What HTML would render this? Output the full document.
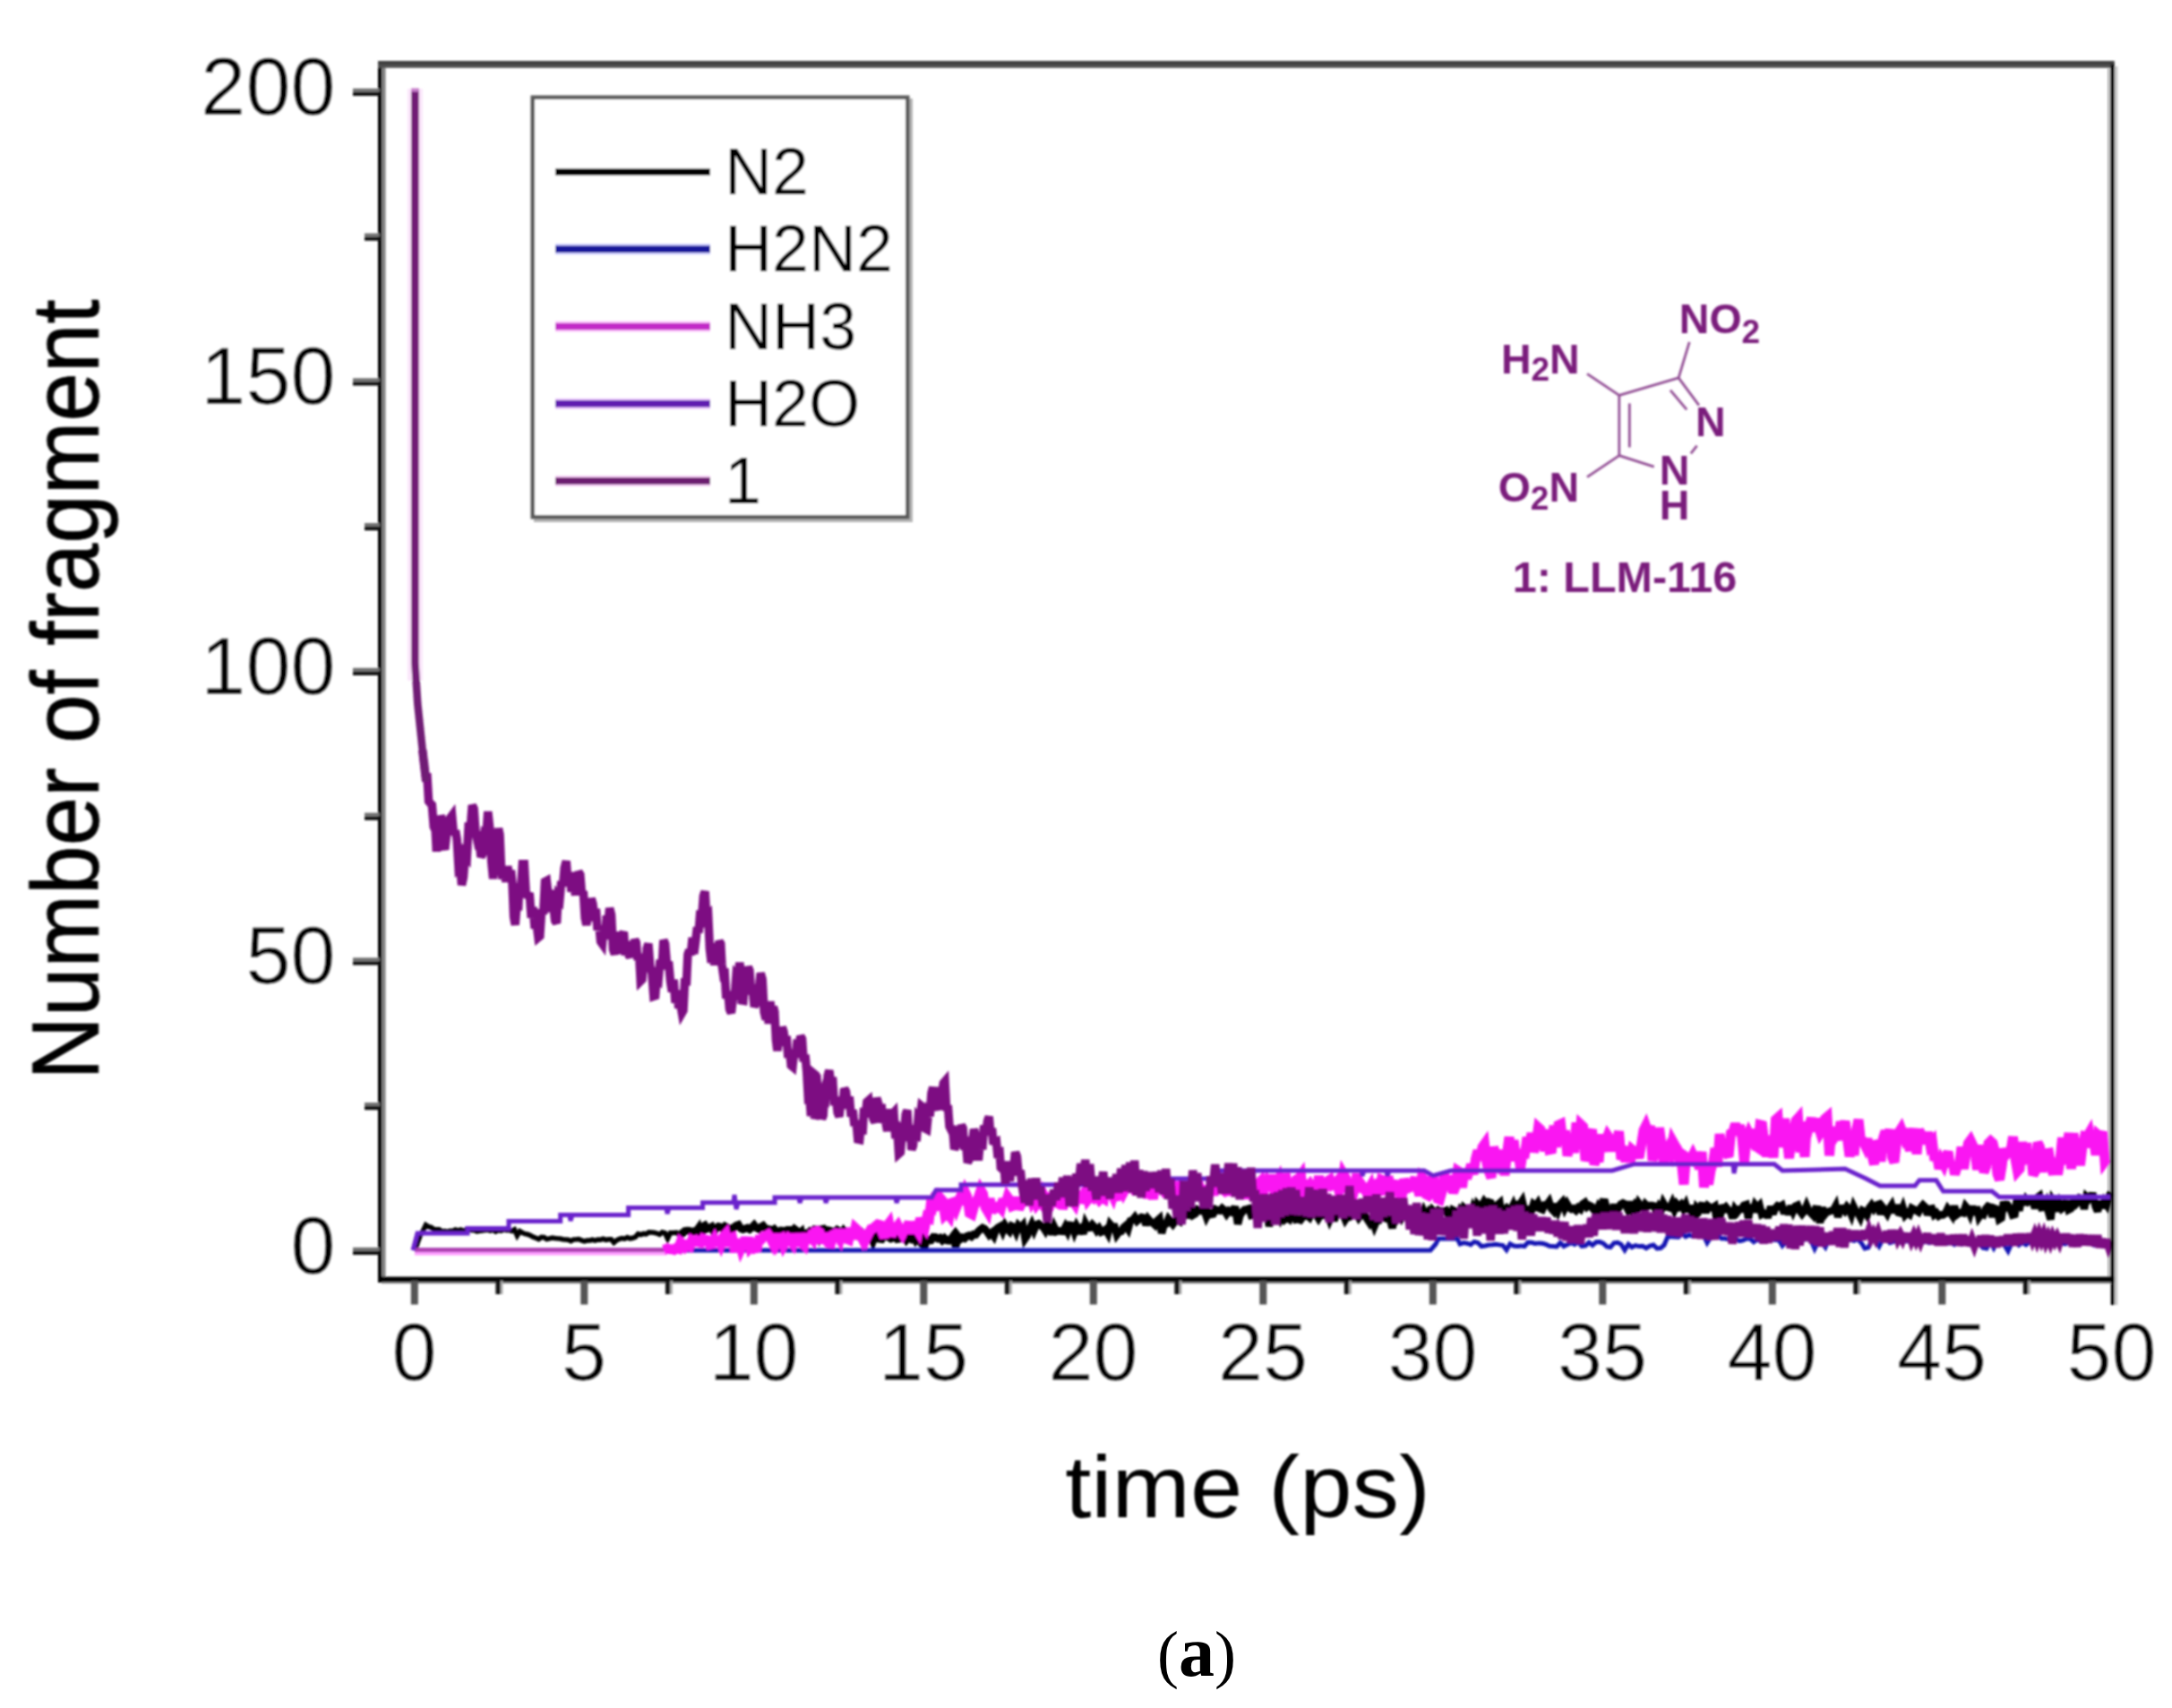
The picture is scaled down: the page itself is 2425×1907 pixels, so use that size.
<!DOCTYPE html>
<html lang="en"><head><meta charset="utf-8"><title>Number of fragment vs time</title>
<style>html,body{margin:0;padding:0;background:#fff}body{width:2425px;height:1907px;overflow:hidden}svg{display:block}</style></head>
<body>
<svg width="2425" height="1907" viewBox="0 0 2425 1907">
<defs><filter id="b" x="-5%" y="-5%" width="110%" height="110%"><feGaussianBlur stdDeviation="1.3"/></filter><filter id="b2" x="-5%" y="-5%" width="110%" height="110%"><feGaussianBlur stdDeviation="0.9"/></filter></defs>
<rect width="2425" height="1907" fill="#fff"/>
<rect x="2352.6" y="76" width="4.1" height="1350" fill="#c4c4c4" filter="url(#b2)"/>
<g fill="none" stroke-linejoin="miter" stroke-miterlimit="3" stroke-linecap="butt" filter="url(#b)">
<path d="M463.4 1396.1 L466.4 1386.8 L469.4 1378.7 L472.4 1373.9 L475.4 1367.7 L478.4 1369.6 L481.4 1370.4 L484.4 1372.5 L487.4 1372.7 L490.4 1372.8 L493.4 1374.9 L496.4 1374.6 L499.4 1375.3 L502.4 1374.2 L505.4 1374.4 L508.4 1372.9 L511.4 1373.8 L514.4 1373.0 L517.4 1374.7 L520.4 1372.8 L523.4 1372.7 L526.4 1373.5 L529.4 1373.6 L532.4 1374.9 L535.4 1374.2 L538.4 1374.1 L541.4 1373.4 L544.4 1373.1 L547.4 1374.1 L550.4 1373.0 L553.4 1375.0 L556.4 1373.6 L559.4 1374.2 L562.4 1372.7 L565.4 1373.5 L568.4 1373.3 L571.4 1374.5 L574.4 1372.9 L577.4 1379.7 L580.4 1374.8 L583.4 1376.5 L586.4 1377.7 L589.4 1378.2 L592.4 1379.6 L595.4 1381.1 L598.4 1382.2 L601.4 1383.5 L604.4 1381.4 L607.4 1381.5 L610.4 1383.6 L613.4 1382.8 L616.4 1382.0 L619.4 1382.5 L622.4 1382.8 L625.4 1383.0 L628.4 1383.7 L631.4 1383.9 L634.4 1384.2 L637.4 1385.6 L640.4 1383.9 L643.4 1383.8 L646.4 1383.5 L649.4 1385.0 L652.4 1385.9 L655.4 1385.1 L658.4 1384.9 L661.4 1384.2 L664.4 1385.1 L667.4 1384.0 L670.4 1384.2 L673.4 1383.2 L676.4 1384.4 L679.4 1383.7 L682.4 1383.7 L685.4 1387.3 L688.4 1384.8 L691.4 1383.4 L694.4 1382.5 L697.4 1383.1 L700.4 1381.6 L703.4 1382.8 L706.4 1382.3 L709.4 1381.1 L712.4 1377.7 L715.4 1378.5 L718.4 1377.4 L721.4 1377.8 L724.4 1375.9 L727.4 1376.1 L730.4 1376.3 L733.4 1377.0 L736.4 1378.3 L739.4 1375.8 L742.4 1376.5 L745.4 1383.0 L748.4 1376.5 L751.4 1376.5 L754.4 1376.3 L757.4 1376.3" stroke="#000000" stroke-width="5.5"/>
<path d="M757.0 1376.0 L759.5 1377.8 L762.0 1377.3 L764.5 1374.4 L767.0 1374.0 L769.5 1374.2 L772.0 1376.2 L774.5 1374.7 L777.0 1374.9 L779.5 1371.5 L782.0 1385.3 L784.5 1369.5 L787.0 1368.1 L789.5 1372.0 L792.0 1371.0 L794.5 1369.7 L797.0 1375.6 L799.5 1371.2 L802.0 1369.4 L804.5 1370.0 L807.0 1372.1 L809.5 1369.1 L812.0 1370.4 L814.5 1371.7 L817.0 1373.4 L819.5 1370.2 L822.0 1368.4 L824.5 1367.5 L827.0 1371.6 L829.5 1372.7 L832.0 1371.8 L834.5 1371.0 L837.0 1372.5 L839.5 1370.5 L842.0 1367.8 L844.5 1371.0 L847.0 1372.3 L849.5 1369.9 L852.0 1368.5 L854.5 1371.4 L857.0 1372.2 L859.5 1372.5 L862.0 1374.1 L864.5 1372.4 L867.0 1375.0 L869.5 1376.9 L872.0 1373.9 L874.5 1374.1 L877.0 1377.6 L879.5 1373.3 L882.0 1373.3 L884.5 1375.3 L887.0 1372.1 L889.5 1373.9 L892.0 1377.5 L894.5 1375.3 L897.0 1388.4 L899.5 1376.8 L902.0 1376.9 L904.5 1374.6 L907.0 1375.8 L909.5 1372.5 L912.0 1372.8 L914.5 1379.6 L917.0 1372.4 L919.5 1371.9 L922.0 1375.3 L924.5 1373.5 L927.0 1374.1 L929.5 1376.9 L932.0 1375.2 L934.5 1373.1 L937.0 1374.7 L939.5 1378.0 L942.0 1373.9 L944.5 1376.7 L947.0 1387.3 L949.5 1380.3 L952.0 1379.2 L954.5 1377.4 L957.0 1379.9 L959.5 1380.5 L962.0 1377.6 L964.5 1382.0 L967.0 1381.7 L969.5 1381.6 L972.0 1380.4 L974.5 1385.8 L977.0 1378.6 L979.5 1382.9 L982.0 1383.3 L984.5 1383.6 L987.0 1379.4 L989.5 1378.9 L992.0 1381.5 L994.5 1383.1 L997.0 1382.2 L999.5 1378.9 L1002.0 1383.5 L1004.5 1383.1 L1007.0 1379.9 L1009.5 1380.5 L1012.0 1384.4 L1014.5 1381.6 L1017.0 1383.3 L1019.5 1380.0 L1022.0 1384.4 L1024.5 1380.4 L1027.0 1385.1 L1029.5 1381.9 L1032.0 1393.1 L1034.5 1383.2 L1037.0 1385.1 L1039.5 1384.9 L1042.0 1381.1 L1044.5 1381.2 L1047.0 1382.9 L1049.5 1382.0 L1052.0 1384.9 L1054.5 1382.5 L1057.0 1384.9 L1059.5 1385.2 L1062.0 1383.0 L1064.5 1379.7 L1067.0 1392.1 L1069.5 1380.3 L1072.0 1383.6 L1074.5 1381.6 L1077.0 1382.7 L1079.5 1380.2 L1082.0 1379.4 L1084.5 1380.8 L1087.0 1378.2 L1089.5 1378.4 L1092.0 1375.1 L1094.5 1372.7 L1097.0 1370.9 L1099.5 1372.1 L1102.0 1375.2 L1104.5 1378.8 L1107.0 1376.6 L1109.5 1380.1 L1112.0 1372.8 L1114.5 1370.6 L1117.0 1369.2 L1119.5 1374.6 L1122.0 1368.2 L1124.5 1372.2 L1127.0 1374.7 L1129.5 1368.8 L1132.0 1369.9 L1134.5 1375.4 L1137.0 1368.3 L1139.5 1370.9 L1142.0 1368.1 L1144.5 1382.9 L1147.0 1379.2 L1149.5 1372.1 L1152.0 1367.0 L1154.5 1373.3 L1157.0 1367.5 L1159.5 1366.4 L1162.0 1368.4 L1164.5 1370.0 L1167.0 1373.8 L1169.5 1368.0 L1172.0 1371.4 L1174.5 1378.1 L1177.0 1369.9 L1179.5 1375.0 L1182.0 1374.2 L1184.5 1374.7 L1187.0 1374.8 L1189.5 1369.9 L1192.0 1374.9 L1194.5 1367.9 L1197.0 1368.3 L1199.5 1375.4 L1202.0 1368.9 L1204.5 1373.2 L1207.0 1371.2 L1209.5 1377.7 L1212.0 1366.3 L1214.5 1371.0 L1217.0 1370.7 L1219.5 1367.3 L1222.0 1370.0 L1224.5 1374.0 L1227.0 1371.3 L1229.5 1375.6 L1232.0 1374.6 L1234.5 1372.7 L1237.0 1377.1 L1239.5 1366.9 L1242.0 1369.8 L1244.5 1369.8 L1247.0 1378.6 L1249.5 1375.3 L1252.0 1374.7 L1254.5 1370.5 L1257.0 1368.4 L1259.5 1372.2 L1262.0 1363.2 L1264.5 1362.1 L1267.0 1359.1 L1269.5 1363.3 L1272.0 1361.1 L1274.5 1359.1 L1277.0 1359.6 L1279.5 1367.7 L1282.0 1361.0 L1284.5 1363.9 L1287.0 1365.4 L1289.5 1367.7 L1292.0 1362.8 L1294.5 1360.6 L1297.0 1376.9 L1299.5 1367.7 L1302.0 1366.6 L1304.5 1360.9 L1307.0 1363.8 L1309.5 1366.8 L1312.0 1363.5 L1314.5 1362.3 L1317.0 1363.6 L1319.5 1355.1 L1322.0 1358.0 L1324.5 1356.4 L1327.0 1356.7 L1329.5 1350.4 L1332.0 1356.6 L1334.5 1355.1 L1337.0 1350.6 L1339.5 1351.8 L1342.0 1352.0 L1344.5 1351.4 L1347.0 1358.5 L1349.5 1353.6 L1352.0 1355.9 L1354.5 1355.4 L1357.0 1350.3 L1359.5 1351.4 L1362.0 1351.8 L1364.5 1349.1 L1367.0 1351.2 L1369.5 1355.3 L1372.0 1351.9 L1374.5 1353.1 L1377.0 1350.0 L1379.5 1350.3 L1382.0 1366.7 L1384.5 1356.7 L1387.0 1353.2 L1389.5 1350.6 L1392.0 1350.2 L1394.5 1349.5 L1397.0 1356.9 L1399.5 1356.3 L1402.0 1357.2 L1404.5 1351.4 L1407.0 1359.9 L1409.5 1353.8 L1412.0 1352.3 L1414.5 1352.8 L1417.0 1369.1 L1419.5 1358.4 L1422.0 1359.6 L1424.5 1359.7 L1427.0 1355.0 L1429.5 1360.6 L1432.0 1355.4 L1434.5 1361.5 L1437.0 1359.6 L1439.5 1361.3 L1442.0 1355.5 L1444.5 1354.4 L1447.0 1361.7 L1449.5 1361.2 L1452.0 1362.2 L1454.5 1359.0 L1457.0 1354.0 L1459.5 1357.2 L1462.0 1359.3 L1464.5 1354.0 L1467.0 1354.3 L1469.5 1356.3 L1472.0 1360.2 L1474.5 1356.2 L1477.0 1356.2 L1479.5 1357.1 L1482.0 1355.0 L1484.5 1361.8 L1487.0 1356.0 L1489.5 1362.8 L1492.0 1355.4 L1494.5 1354.3 L1497.0 1354.2 L1499.5 1355.7 L1502.0 1361.8 L1504.5 1358.0 L1507.0 1358.7 L1509.5 1357.0 L1512.0 1356.3 L1514.5 1354.9 L1517.0 1359.4 L1519.5 1356.0 L1522.0 1356.0 L1524.5 1357.9 L1527.0 1361.9 L1529.5 1365.7 L1532.0 1362.1 L1534.5 1368.9 L1537.0 1362.9 L1539.5 1362.6 L1542.0 1356.9 L1544.5 1355.5 L1547.0 1360.2 L1549.5 1361.1 L1552.0 1361.6 L1554.5 1371.3 L1557.0 1356.6 L1559.5 1360.1 L1562.0 1355.4 L1564.5 1359.6 L1567.0 1354.8 L1569.5 1358.1 L1572.0 1356.9 L1574.5 1367.0 L1577.0 1357.2 L1579.5 1358.6 L1582.0 1357.0 L1584.5 1354.5 L1587.0 1358.3 L1589.5 1352.1 L1592.0 1357.4 L1594.5 1353.8 L1597.0 1359.5 L1599.5 1351.5 L1602.0 1354.2 L1604.5 1352.1 L1607.0 1356.8 L1609.5 1352.1 L1612.0 1352.4 L1614.5 1351.5 L1617.0 1356.2 L1619.5 1358.2 L1622.0 1351.1 L1624.5 1352.4 L1627.0 1357.2 L1629.5 1352.3 L1632.0 1357.1 L1634.5 1348.7 L1637.0 1350.9 L1639.5 1355.5 L1642.0 1357.9 L1644.5 1349.5 L1647.0 1355.4 L1649.5 1344.5 L1652.0 1347.1 L1654.5 1346.1 L1657.0 1341.5 L1659.5 1344.7 L1662.0 1342.2 L1664.5 1343.0 L1667.0 1350.4 L1669.5 1356.1 L1672.0 1345.4 L1674.5 1343.2 L1677.0 1360.5 L1679.5 1351.1 L1682.0 1348.8 L1684.5 1351.6 L1687.0 1350.4 L1689.5 1345.4 L1692.0 1352.4 L1694.5 1344.7 L1697.0 1344.6 L1699.5 1340.8 L1702.0 1351.4 L1704.5 1360.7 L1707.0 1347.3 L1709.5 1352.5 L1712.0 1344.6 L1714.5 1346.7 L1717.0 1343.1 L1719.5 1349.5 L1722.0 1350.5 L1724.5 1345.3 L1727.0 1345.2 L1729.5 1341.8 L1732.0 1349.5 L1734.5 1352.1 L1737.0 1344.4 L1739.5 1351.3 L1742.0 1344.6 L1744.5 1342.0 L1747.0 1349.0 L1749.5 1344.0 L1752.0 1348.2 L1754.5 1350.1 L1757.0 1349.3 L1759.5 1351.4 L1762.0 1348.3 L1764.5 1350.0 L1767.0 1344.3 L1769.5 1342.6 L1772.0 1347.5 L1774.5 1345.8 L1777.0 1347.0 L1779.5 1350.7 L1782.0 1353.3 L1784.5 1347.5 L1787.0 1351.4 L1789.5 1342.1 L1792.0 1342.3 L1794.5 1352.5 L1797.0 1353.0 L1799.5 1352.5 L1802.0 1345.2 L1804.5 1352.8 L1807.0 1349.3 L1809.5 1344.6 L1812.0 1343.2 L1814.5 1344.4 L1817.0 1349.4 L1819.5 1342.2 L1822.0 1349.6 L1824.5 1346.0 L1827.0 1351.5 L1829.5 1343.3 L1832.0 1346.6 L1834.5 1349.8 L1837.0 1344.5 L1839.5 1347.0 L1842.0 1346.1 L1844.5 1346.1 L1847.0 1346.7 L1849.5 1352.9 L1852.0 1347.6 L1854.5 1351.5 L1857.0 1343.2 L1859.5 1347.5 L1862.0 1347.7 L1864.5 1348.5 L1867.0 1343.3 L1869.5 1350.3 L1872.0 1344.4 L1874.5 1347.3 L1877.0 1344.9 L1879.5 1349.3 L1882.0 1344.8 L1884.5 1352.8 L1887.0 1346.3 L1889.5 1354.8 L1892.0 1362.6 L1894.5 1348.6 L1897.0 1351.3 L1899.5 1346.0 L1902.0 1346.3 L1904.5 1353.8 L1907.0 1346.6 L1909.5 1348.5 L1912.0 1348.5 L1914.5 1346.9 L1917.0 1364.7 L1919.5 1365.6 L1922.0 1345.9 L1924.5 1350.4 L1927.0 1347.8 L1929.5 1350.9 L1932.0 1352.2 L1934.5 1360.2 L1937.0 1350.1 L1939.5 1353.4 L1942.0 1350.1 L1944.5 1350.0 L1947.0 1345.8 L1949.5 1345.0 L1952.0 1360.5 L1954.5 1345.2 L1957.0 1353.2 L1959.5 1345.2 L1962.0 1348.4 L1964.5 1345.8 L1967.0 1355.9 L1969.5 1354.7 L1972.0 1356.7 L1974.5 1356.6 L1977.0 1347.1 L1979.5 1355.4 L1982.0 1349.2 L1984.5 1346.3 L1987.0 1347.4 L1989.5 1345.9 L1992.0 1355.1 L1994.5 1348.1 L1997.0 1355.9 L1999.5 1346.3 L2002.0 1352.3 L2004.5 1346.8 L2007.0 1345.7 L2009.5 1351.8 L2012.0 1355.2 L2014.5 1352.1 L2017.0 1346.2 L2019.5 1351.9 L2022.0 1354.4 L2024.5 1357.0 L2027.0 1349.8 L2029.5 1350.1 L2032.0 1365.5 L2034.5 1348.2 L2037.0 1356.4 L2039.5 1353.4 L2042.0 1352.7 L2044.5 1351.8 L2047.0 1351.1 L2049.5 1346.5 L2052.0 1358.9 L2054.5 1349.3 L2057.0 1349.1 L2059.5 1351.8 L2062.0 1347.5 L2064.5 1350.4 L2067.0 1356.2 L2069.5 1347.3 L2072.0 1352.4 L2074.5 1354.6 L2077.0 1359.3 L2079.5 1351.7 L2082.0 1352.9 L2084.5 1356.6 L2087.0 1348.7 L2089.5 1345.5 L2092.0 1349.5 L2094.5 1345.7 L2097.0 1344.8 L2099.5 1355.8 L2102.0 1348.0 L2104.5 1351.1 L2107.0 1355.0 L2109.5 1349.4 L2112.0 1345.7 L2114.5 1354.1 L2117.0 1345.6 L2119.5 1353.7 L2122.0 1354.4 L2124.5 1348.4 L2127.0 1356.6 L2129.5 1354.0 L2132.0 1355.8 L2134.5 1349.1 L2137.0 1350.5 L2139.5 1351.6 L2142.0 1353.2 L2144.5 1348.3 L2147.0 1345.4 L2149.5 1347.7 L2152.0 1356.4 L2154.5 1349.9 L2157.0 1349.4 L2159.5 1356.2 L2162.0 1354.3 L2164.5 1357.7 L2167.0 1356.3 L2169.5 1356.5 L2172.0 1354.9 L2174.5 1349.7 L2177.0 1353.0 L2179.5 1356.7 L2182.0 1346.5 L2184.5 1356.4 L2187.0 1354.6 L2189.5 1353.7 L2192.0 1354.3 L2194.5 1346.8 L2197.0 1349.7 L2199.5 1355.4 L2202.0 1346.9 L2204.5 1356.4 L2207.0 1347.5 L2209.5 1358.8 L2212.0 1355.1 L2214.5 1356.1 L2217.0 1349.8 L2219.5 1346.9 L2222.0 1347.9 L2224.5 1358.8 L2227.0 1349.2 L2229.5 1350.1 L2232.0 1361.5 L2234.5 1359.9 L2237.0 1341.8 L2239.5 1348.2 L2242.0 1346.3 L2244.5 1349.7 L2247.0 1356.5 L2249.5 1355.8 L2252.0 1337.9 L2254.5 1351.9 L2257.0 1336.4 L2259.5 1345.0 L2262.0 1338.9 L2264.5 1341.8 L2267.0 1340.1 L2269.5 1340.3 L2272.0 1349.1 L2274.5 1337.2 L2277.0 1335.4 L2279.5 1348.2 L2282.0 1347.8 L2284.5 1343.0 L2287.0 1352.8 L2289.5 1361.5 L2292.0 1340.3 L2294.5 1344.0 L2297.0 1352.3 L2299.5 1344.0 L2302.0 1349.4 L2304.5 1347.5 L2307.0 1340.5 L2309.5 1350.7 L2312.0 1349.4 L2314.5 1342.8 L2317.0 1345.1 L2319.5 1342.7 L2322.0 1337.6 L2324.5 1338.3 L2327.0 1349.9 L2329.5 1336.2 L2332.0 1338.6 L2334.5 1335.1 L2337.0 1335.3 L2339.5 1346.7 L2342.0 1352.7 L2344.5 1341.0 L2347.0 1348.6 L2349.5 1341.5 L2352.0 1345.1 L2354.5 1336.1 L2357.0 1331.5" stroke="#000000" stroke-width="8.5"/>
<path d="M463.0 1396.0 L1597.0 1396.0 L1603.0 1389.0 L1606.0 1383.0 L1627.0 1383.0 L1630.0 1389.0 L1634.0 1387.6 L1638.0 1388.2 L1642.0 1389.6 L1646.0 1386.4 L1650.0 1387.5 L1654.0 1391.5 L1658.0 1391.0 L1662.0 1390.0 L1666.0 1389.8 L1670.0 1389.2 L1674.0 1389.9 L1678.0 1390.5 L1682.0 1395.6 L1686.0 1388.8 L1690.0 1391.0 L1694.0 1391.4 L1698.0 1390.9 L1702.0 1391.5 L1706.0 1387.1 L1710.0 1387.3 L1714.0 1388.5 L1718.0 1387.9 L1722.0 1388.3 L1726.0 1389.4 L1730.0 1391.2 L1734.0 1391.5 L1738.0 1391.9 L1742.0 1387.5 L1746.0 1391.4 L1750.0 1389.6 L1754.0 1387.5 L1758.0 1389.3 L1762.0 1386.7 L1766.0 1391.4 L1770.0 1390.8 L1774.0 1387.3 L1778.0 1390.3 L1782.0 1386.8 L1786.0 1386.6 L1790.0 1388.2 L1794.0 1391.9 L1798.0 1392.5 L1802.0 1387.8 L1806.0 1387.3 L1810.0 1389.3 L1814.0 1395.7 L1818.0 1389.2 L1822.0 1392.5 L1826.0 1390.6 L1830.0 1391.6 L1834.0 1391.3 L1838.0 1393.5 L1842.0 1391.1 L1846.0 1390.0 L1850.0 1393.9 L1854.0 1393.5 L1858.0 1390.1 L1862.0 1380.8 L1866.0 1380.8 L1870.0 1381.0 L1874.0 1381.2 L1878.0 1377.6 L1882.0 1380.7 L1886.0 1378.7 L1890.0 1380.4 L1894.0 1379.3 L1898.0 1379.2 L1902.0 1378.9 L1906.0 1387.6 L1910.0 1381.4 L1914.0 1378.7 L1918.0 1379.6 L1922.0 1382.8 L1926.0 1382.8 L1930.0 1383.9 L1934.0 1384.5 L1938.0 1383.2 L1942.0 1385.6 L1946.0 1384.8 L1950.0 1383.0 L1954.0 1383.1 L1958.0 1386.6 L1962.0 1384.0 L1966.0 1385.7 L1970.0 1384.2 L1974.0 1383.8 L1978.0 1383.7 L1982.0 1384.4 L1986.0 1384.4 L1990.0 1390.9 L1994.0 1386.8 L1998.0 1384.8 L2002.0 1387.3 L2006.0 1386.5 L2010.0 1386.0 L2014.0 1384.0 L2018.0 1383.5 L2022.0 1385.3 L2026.0 1394.3 L2030.0 1386.2 L2034.0 1387.3 L2038.0 1392.6 L2042.0 1383.3 L2046.0 1385.7 L2050.0 1384.6 L2054.0 1385.6 L2058.0 1383.7 L2062.0 1384.8 L2066.0 1384.3 L2070.0 1385.3 L2074.0 1383.5 L2078.0 1387.5 L2082.0 1393.9 L2086.0 1392.8 L2090.0 1384.6 L2094.0 1385.2 L2098.0 1391.5 L2102.0 1384.0 L2106.0 1383.5 L2110.0 1387.7 L2114.0 1386.3 L2118.0 1385.3 L2122.0 1387.0 L2126.0 1385.7 L2130.0 1385.5 L2134.0 1386.8 L2138.0 1386.0 L2142.0 1385.0 L2146.0 1387.2 L2150.0 1386.3 L2154.0 1387.6 L2158.0 1386.5 L2162.0 1388.2 L2166.0 1388.4 L2170.0 1386.1 L2174.0 1388.4 L2178.0 1387.2 L2182.0 1389.6 L2186.0 1387.2 L2190.0 1389.3 L2194.0 1387.8 L2198.0 1389.6 L2202.0 1390.2 L2206.0 1389.1 L2210.0 1388.5 L2214.0 1393.1 L2218.0 1393.9 L2222.0 1386.0 L2226.0 1393.5 L2230.0 1385.8 L2234.0 1388.7 L2238.0 1390.5 L2242.0 1396.9 L2246.0 1388.3 L2250.0 1385.9 L2254.0 1390.1 L2258.0 1387.3 L2262.0 1389.7 L2266.0 1386.5 L2270.0 1388.5 L2274.0 1387.5 L2278.0 1387.4 L2282.0 1387.5 L2286.0 1387.9 L2290.0 1387.5 L2294.0 1386.1 L2298.0 1389.2 L2302.0 1388.2 L2306.0 1388.8 L2310.0 1386.2 L2314.0 1389.2 L2318.0 1388.2 L2322.0 1389.2 L2326.0 1386.9 L2330.0 1388.4 L2334.0 1386.6 L2338.0 1390.3 L2342.0 1389.3 L2346.0 1390.0 L2350.0 1387.0 L2354.0 1385.4" stroke="#1616b4" stroke-width="5"/>
<path d="M463 1399.5 L745 1399.5" stroke="#ff9cff" stroke-width="4"/>
<path d="M463.0 1395.5 L745.0 1395.5" stroke="#b03cb0" stroke-width="4.5"/>
<path d="M741.0 1395.5 L745.0 1394.1 L747.5 1394.7 L750.0 1394.7 L752.5 1395.4 L755.0 1393.5 L757.5 1394.2 L760.0 1386.9 L762.5 1389.0 L765.0 1392.4 L767.5 1390.1 L770.0 1391.4 L772.5 1384.9 L775.0 1386.5 L777.5 1384.9 L780.0 1387.0 L782.5 1387.5 L785.0 1383.2 L787.5 1384.2 L790.0 1384.7 L792.5 1389.7 L795.0 1389.1 L797.5 1384.4 L800.0 1390.8 L802.5 1381.5 L805.0 1387.9 L807.5 1380.9 L810.0 1378.2 L812.5 1391.2 L815.0 1382.4 L817.5 1381.6 L820.0 1393.3 L822.5 1393.0 L825.0 1384.0 L827.5 1393.4 L830.0 1387.8 L832.5 1389.4 L835.0 1382.1 L837.5 1392.7 L840.0 1389.9 L842.5 1394.0 L845.0 1393.3 L847.5 1384.0 L850.0 1383.8 L852.5 1380.6 L855.0 1379.9 L857.5 1378.4 L860.0 1381.9 L862.5 1386.9 L865.0 1378.1 L867.5 1387.5 L870.0 1383.1 L872.5 1382.1 L875.0 1389.8 L877.5 1385.3 L880.0 1382.2 L882.5 1384.3 L885.0 1387.8 L887.5 1378.1 L890.0 1391.1 L892.5 1377.7 L895.0 1387.4 L897.5 1389.8 L900.0 1377.2 L902.5 1387.4 L905.0 1381.6 L907.5 1384.1 L910.0 1375.2 L912.5 1374.5 L915.0 1376.1 L917.5 1388.0 L920.0 1377.3 L922.5 1384.7 L925.0 1387.8 L927.5 1388.2 L930.0 1378.8 L932.5 1377.5 L935.0 1379.6 L937.5 1383.4 L940.0 1373.3 L942.5 1381.8 L945.0 1383.1 L947.5 1384.1 L950.0 1371.2 L952.5 1383.5 L955.0 1371.2 L957.5 1373.5 L960.0 1377.6 L962.5 1382.5 L965.0 1374.0 L967.5 1381.8 L970.0 1376.5 L972.5 1372.2 L975.0 1371.5 L977.5 1369.0 L980.0 1367.0 L982.5 1367.7 L985.0 1375.9 L987.5 1381.5 L990.0 1369.2 L992.5 1365.9 L995.0 1379.8 L997.5 1374.2 L1000.0 1371.5 L1002.5 1368.4 L1005.0 1373.3 L1007.5 1377.3 L1010.0 1372.0 L1012.5 1370.7 L1015.0 1364.6 L1017.5 1377.1 L1020.0 1364.6 L1022.5 1370.3 L1025.0 1374.4 L1027.5 1360.1 L1030.0 1366.8 L1032.5 1370.4 L1035.0 1358.4 L1037.5 1359.6 L1040.0 1338.0 L1042.5 1342.6 L1045.0 1332.5 L1047.5 1351.4 L1050.0 1337.8 L1052.5 1340.8 L1055.0 1356.5 L1057.5 1354.1 L1060.0 1357.4 L1062.5 1342.9 L1065.0 1342.1 L1067.5 1348.5 L1070.0 1342.0 L1072.5 1335.9 L1075.0 1338.2 L1077.5 1330.9 L1080.0 1336.5 L1082.5 1354.4 L1085.0 1355.7 L1087.5 1346.5 L1090.0 1341.9 L1092.5 1336.6 L1095.0 1328.8 L1097.5 1333.0 L1100.0 1347.9 L1102.5 1352.1 L1105.0 1338.5 L1107.5 1349.0 L1110.0 1349.8 L1112.5 1347.7 L1115.0 1346.6 L1117.5 1349.2 L1120.0 1338.8 L1122.5 1345.3 L1125.0 1336.7 L1127.5 1340.2 L1130.0 1346.8 L1132.5 1345.9 L1135.0 1337.0 L1137.5 1349.9 L1140.0 1344.5 L1142.5 1342.1 L1145.0 1329.0 L1147.5 1338.8 L1150.0 1332.9 L1152.5 1341.3 L1155.0 1337.3 L1157.5 1344.4 L1160.0 1341.1 L1162.5 1343.8 L1165.0 1333.9 L1167.5 1338.9 L1170.0 1341.1 L1172.5 1343.1 L1175.0 1332.5 L1177.5 1341.8 L1180.0 1343.0 L1182.5 1339.3 L1185.0 1345.2 L1187.5 1345.3 L1190.0 1335.8 L1192.5 1334.8 L1195.0 1326.5 L1197.5 1340.2 L1200.0 1343.9 L1202.5 1334.4 L1205.0 1338.0 L1207.5 1338.9 L1210.0 1339.2 L1212.5 1326.9 L1215.0 1338.8 L1217.5 1335.6 L1220.0 1337.2 L1222.5 1331.9 L1225.0 1335.7 L1227.5 1339.4 L1230.0 1336.8 L1232.5 1338.3 L1235.0 1323.1 L1237.5 1324.1 L1240.0 1330.1 L1242.5 1335.3 L1245.0 1326.5 L1247.5 1335.7 L1250.0 1335.3 L1252.5 1322.4 L1255.0 1330.2 L1257.5 1325.5 L1260.0 1321.1 L1262.5 1322.2 L1265.0 1326.2 L1267.5 1323.6 L1270.0 1323.5 L1272.5 1319.9 L1275.0 1328.8 L1277.5 1327.9 L1280.0 1332.9 L1282.5 1332.9 L1285.0 1325.2 L1287.5 1338.8 L1290.0 1320.4 L1292.5 1327.2 L1295.0 1324.8 L1297.5 1327.4 L1300.0 1321.1 L1302.5 1336.0 L1305.0 1327.5 L1307.5 1319.1 L1310.0 1330.5 L1312.5 1320.2 L1315.0 1328.9 L1317.5 1325.1 L1320.0 1329.9 L1322.5 1338.6 L1325.0 1336.5 L1327.5 1327.4 L1330.0 1334.9 L1332.5 1331.7 L1335.0 1325.3 L1337.5 1319.3 L1340.0 1328.3 L1342.5 1328.4 L1345.0 1337.1 L1347.5 1338.2 L1350.0 1330.4 L1352.5 1323.7 L1355.0 1334.6 L1357.5 1316.0 L1360.0 1316.1 L1362.5 1325.8 L1365.0 1327.8 L1367.5 1317.6 L1370.0 1327.1 L1372.5 1333.7 L1375.0 1323.1 L1377.5 1323.0 L1380.0 1318.2 L1382.5 1318.9 L1385.0 1333.7 L1387.5 1322.3 L1390.0 1333.8 L1392.5 1333.8 L1395.0 1326.8 L1397.5 1318.5 L1400.0 1333.1 L1402.5 1324.1 L1405.0 1321.4 L1407.5 1318.9 L1410.0 1333.1 L1412.5 1324.0 L1415.0 1318.6 L1417.5 1322.0 L1420.0 1312.0 L1422.5 1325.1 L1425.0 1321.5 L1427.5 1316.9 L1430.0 1330.3 L1432.5 1333.1 L1435.0 1310.4 L1437.5 1322.6 L1440.0 1316.3 L1442.5 1334.6 L1445.0 1332.3 L1447.5 1317.0 L1450.0 1315.8 L1452.5 1312.2 L1455.0 1335.5 L1457.5 1318.4 L1460.0 1325.7 L1462.5 1322.6 L1465.0 1327.1 L1467.5 1326.4 L1470.0 1330.4 L1472.5 1313.1 L1475.0 1329.5 L1477.5 1318.1 L1480.0 1323.7 L1482.5 1318.6 L1485.0 1317.0 L1487.5 1323.4 L1490.0 1322.3 L1492.5 1319.4 L1495.0 1330.0 L1497.5 1326.9 L1500.0 1311.0 L1502.5 1315.2 L1505.0 1321.3 L1507.5 1335.2 L1510.0 1336.2 L1512.5 1326.9 L1515.0 1310.7 L1517.5 1330.5 L1520.0 1322.6 L1522.5 1326.2 L1525.0 1330.4 L1527.5 1328.8 L1530.0 1324.5 L1532.5 1336.2 L1535.0 1322.6 L1537.5 1321.4 L1540.0 1334.2 L1542.5 1317.1 L1545.0 1318.1 L1547.5 1333.2 L1550.0 1313.3 L1552.5 1333.2 L1555.0 1331.3 L1557.5 1323.9 L1560.0 1318.9 L1562.5 1332.3 L1565.0 1337.6 L1567.5 1316.6 L1570.0 1323.8 L1572.5 1326.4 L1575.0 1325.4 L1577.5 1320.6 L1580.0 1315.1 L1582.5 1326.7 L1585.0 1334.5 L1587.5 1314.5 L1590.0 1316.9 L1592.5 1333.7 L1595.0 1335.0 L1597.5 1331.8 L1600.0 1313.3 L1602.5 1330.1 L1605.0 1338.3 L1607.5 1339.3 L1610.0 1330.4 L1612.5 1310.1 L1615.0 1329.4 L1617.5 1312.9 L1620.0 1322.6 L1622.5 1331.5 L1625.0 1325.1 L1627.5 1307.3 L1630.0 1308.9 L1632.5 1325.8 L1635.0 1305.2 L1637.5 1315.4 L1640.0 1309.4 L1642.5 1300.3 L1645.0 1310.9 L1647.5 1294.1 L1650.0 1284.7 L1652.5 1295.4 L1655.0 1281.0 L1657.5 1277.4 L1660.0 1299.5 L1662.5 1308.5 L1665.0 1314.9 L1667.5 1280.7 L1670.0 1290.0 L1672.5 1284.5 L1675.0 1296.6 L1677.5 1292.2 L1680.0 1312.1 L1682.5 1287.6 L1685.0 1269.5 L1687.5 1296.3 L1690.0 1273.1 L1692.5 1292.4 L1695.0 1287.2 L1697.5 1304.2 L1700.0 1288.2 L1702.5 1288.2 L1705.0 1269.9 L1707.5 1279.6 L1710.0 1265.2 L1712.5 1286.2 L1715.0 1277.7 L1717.5 1259.0 L1720.0 1261.3 L1722.5 1267.6 L1725.0 1285.2 L1727.5 1261.4 L1730.0 1283.6 L1732.5 1283.1 L1735.0 1256.8 L1737.5 1280.7 L1740.0 1256.2 L1742.5 1255.1 L1745.0 1276.4 L1747.5 1262.2 L1750.0 1290.5 L1752.5 1275.1 L1755.0 1266.3 L1757.5 1287.0 L1760.0 1253.5 L1762.5 1283.1 L1765.0 1255.6 L1767.5 1258.0 L1770.0 1296.0 L1772.5 1288.7 L1775.0 1267.8 L1777.5 1261.1 L1780.0 1300.6 L1782.5 1290.7 L1785.0 1297.4 L1787.5 1266.4 L1790.0 1285.3 L1792.5 1274.5 L1795.0 1267.9 L1797.5 1271.6 L1800.0 1285.0 L1802.5 1274.2 L1805.0 1274.9 L1807.5 1263.2 L1810.0 1294.2 L1812.5 1289.2 L1815.0 1296.3 L1817.5 1279.9 L1820.0 1297.5 L1822.5 1283.8 L1825.0 1285.9 L1827.5 1285.1 L1830.0 1292.8 L1832.5 1277.6 L1835.0 1262.0 L1837.5 1257.0 L1840.0 1264.0 L1842.5 1257.1 L1845.0 1296.0 L1847.5 1281.5 L1850.0 1293.4 L1852.5 1259.2 L1855.0 1277.2 L1857.5 1298.4 L1860.0 1288.5 L1862.5 1282.8 L1865.0 1287.3 L1867.5 1274.1 L1870.0 1278.6 L1872.5 1282.6 L1875.0 1296.6 L1877.5 1298.7 L1880.0 1322.4 L1882.5 1291.7 L1885.0 1293.4 L1887.5 1294.6 L1890.0 1289.6 L1892.5 1295.1 L1895.0 1293.6 L1897.5 1305.2 L1900.0 1286.0 L1902.5 1325.7 L1905.0 1304.6 L1907.5 1322.3 L1910.0 1306.6 L1912.5 1298.5 L1915.0 1282.1 L1917.5 1302.6 L1920.0 1266.1 L1922.5 1287.4 L1925.0 1271.5 L1927.5 1287.4 L1930.0 1291.4 L1932.5 1265.4 L1935.0 1263.9 L1937.5 1254.8 L1940.0 1263.0 L1942.5 1256.4 L1945.0 1270.5 L1947.5 1297.4 L1950.0 1271.3 L1952.5 1265.1 L1955.0 1270.1 L1957.5 1260.8 L1960.0 1279.5 L1962.5 1281.2 L1965.0 1255.9 L1967.5 1256.5 L1970.0 1276.4 L1972.5 1291.2 L1975.0 1279.6 L1977.5 1268.5 L1980.0 1292.5 L1982.5 1250.1 L1985.0 1247.9 L1987.5 1280.5 L1990.0 1267.2 L1992.5 1249.1 L1995.0 1270.3 L1997.5 1293.1 L2000.0 1274.2 L2002.5 1264.6 L2005.0 1251.3 L2007.5 1248.5 L2010.0 1286.5 L2012.5 1272.0 L2015.0 1291.6 L2017.5 1252.8 L2020.0 1257.3 L2022.5 1248.3 L2025.0 1263.4 L2027.5 1249.4 L2030.0 1257.1 L2032.5 1265.0 L2035.0 1261.3 L2037.5 1249.2 L2040.0 1247.1 L2042.5 1290.2 L2045.0 1258.4 L2047.5 1270.7 L2050.0 1266.8 L2052.5 1272.5 L2055.0 1252.4 L2057.5 1260.8 L2060.0 1251.9 L2062.5 1271.2 L2065.0 1291.1 L2067.5 1278.8 L2070.0 1289.7 L2072.5 1261.8 L2075.0 1250.2 L2077.5 1273.4 L2080.0 1274.2 L2082.5 1279.3 L2085.0 1271.6 L2087.5 1283.1 L2090.0 1289.7 L2092.5 1300.1 L2095.0 1274.0 L2097.5 1278.4 L2100.0 1296.8 L2102.5 1270.9 L2105.0 1263.0 L2107.5 1270.8 L2110.0 1261.1 L2112.5 1292.0 L2115.0 1297.7 L2117.5 1275.3 L2120.0 1264.2 L2122.5 1260.3 L2125.0 1267.2 L2127.5 1260.5 L2130.0 1275.8 L2132.5 1284.5 L2135.0 1270.3 L2137.5 1260.2 L2140.0 1288.6 L2142.5 1261.8 L2145.0 1266.4 L2147.5 1271.0 L2150.0 1276.0 L2152.5 1264.2 L2155.0 1278.2 L2157.5 1275.1 L2160.0 1295.6 L2162.5 1289.3 L2165.0 1305.0 L2167.5 1295.9 L2170.0 1300.3 L2172.5 1292.5 L2175.0 1285.8 L2177.5 1302.7 L2180.0 1297.4 L2182.5 1311.3 L2185.0 1302.7 L2187.5 1301.0 L2190.0 1280.8 L2192.5 1305.0 L2195.0 1288.8 L2197.5 1276.6 L2200.0 1273.2 L2202.5 1278.5 L2205.0 1284.6 L2207.5 1305.9 L2210.0 1291.5 L2212.5 1278.9 L2215.0 1309.2 L2217.5 1302.4 L2220.0 1276.7 L2222.5 1274.1 L2225.0 1276.4 L2227.5 1286.6 L2230.0 1310.7 L2232.5 1317.2 L2235.0 1302.1 L2237.5 1282.6 L2240.0 1289.2 L2242.5 1286.4 L2245.0 1284.4 L2247.5 1269.2 L2250.0 1293.8 L2252.5 1307.7 L2255.0 1304.9 L2257.5 1275.2 L2260.0 1291.8 L2262.5 1276.4 L2265.0 1299.7 L2267.5 1289.8 L2270.0 1311.8 L2272.5 1307.4 L2275.0 1275.6 L2277.5 1280.8 L2280.0 1308.6 L2282.5 1290.7 L2285.0 1287.6 L2287.5 1287.2 L2290.0 1302.1 L2292.5 1311.2 L2295.0 1293.3 L2297.5 1311.3 L2300.0 1295.3 L2302.5 1270.3 L2305.0 1299.7 L2307.5 1284.0 L2310.0 1265.0 L2312.5 1305.2 L2315.0 1265.3 L2317.5 1286.0 L2320.0 1283.1 L2322.5 1301.0 L2325.0 1279.7 L2327.5 1268.7 L2330.0 1269.3 L2332.5 1265.1 L2335.0 1280.8 L2337.5 1272.4 L2340.0 1289.4 L2342.5 1267.1 L2345.0 1269.2 L2347.5 1263.7 L2350.0 1296.7 L2352.5 1293.3 L2355.0 1293.3" stroke="#fa12f2" stroke-width="11"/>
<path d="M461.0 1396.0 L466.0 1377.0 L522.0 1377.0 L522.0 1371.6 L568.0 1371.6 L568.0 1363.5 L625.7 1363.5 L625.7 1356.6 L636.0 1356.6 L637.0 1363.0 L639.0 1356.6 L701.6 1356.6 L701.6 1348.6 L744.0 1348.6 L745.0 1355.0 L747.0 1348.6 L784.5 1348.6 L784.5 1342.8 L819.0 1342.8 L820.0 1334.0 L822.0 1350.0 L824.0 1342.8 L865.0 1342.8 L865.0 1337.0 L892.0 1337.0 L893.0 1343.0 L895.0 1337.0 L921.0 1337.0 L922.0 1343.0 L924.0 1337.0 L1000.0 1337.0 L1001.0 1343.0 L1003.0 1337.0 L1040.5 1337.0 L1045.0 1328.7 L1073.0 1328.7 L1073.0 1322.8 L1300.0 1322.8 L1300.0 1316.0 L1360.0 1316.0 L1360.0 1307.0 L1520.0 1307.0 L1521.0 1313.0 L1523.0 1307.0 L1548.0 1307.0 L1549.0 1313.0 L1551.0 1307.0 L1590.0 1307.0 L1600.0 1312.6 L1620.0 1307.0 L1780.0 1307.0 L1800.0 1307.0 L1824.5 1299.7 L1935.0 1299.7 L1936.0 1310.0 L1938.0 1299.7 L1981.0 1299.7 L1990.0 1307.0 L2060.0 1305.0 L2083.5 1316.0 L2099.0 1324.0 L2138.0 1324.0 L2143.0 1317.8 L2161.8 1317.8 L2169.6 1330.0 L2224.0 1330.0 L2232.0 1336.5 L2358.0 1336.5" stroke="#6a20cc" stroke-width="5"/>
<path d="M463.4 99 L463.4 760" stroke="#fbe6fb" stroke-width="17"/>
<path d="M471.7 837.4 L475.7 872.5 L473.3 850.0 L475.1 867.4 L476.8 863.4 L478.6 894.7 L480.4 896.8 L482.3 898.7 L484.3 923.3 L486.2 927.3 L487.4 950.7 L488.9 926.6 L490.5 935.1 L492.1 910.9 L493.6 914.8 L495.2 944.3 L496.7 948.4 L498.7 930.4 L500.6 929.3 L502.6 913.2 L504.6 910.5 L506.5 931.7 L508.5 927.3 L510.2 937.6 L512.0 968.6 L513.7 966.7 L515.5 988.2 L517.4 979.6 L519.4 953.8 L521.3 956.2 L523.3 918.5 L525.2 925.5 L527.2 899.2 L529.1 903.1 L531.1 930.4 L533.0 939.0 L535.0 936.6 L536.9 956.8 L538.9 953.0 L540.9 932.1 L542.8 933.9 L544.8 906.2 L546.7 923.8 L548.7 961.8 L550.6 981.1 L552.6 951.4 L554.5 949.1 L556.5 924.9 L558.0 931.8 L559.6 970.5 L561.1 981.1 L563.0 970.4 L564.9 984.6 L566.8 967.2 L568.6 979.5 L570.5 971.8 L572.1 987.4 L573.6 1023.8 L575.2 1032.7 L576.8 1012.8 L578.5 1016.2 L580.1 985.9 L581.8 990.6 L583.4 964.8 L585.3 964.8 L587.3 998.7 L589.3 999.9 L591.2 997.1 L593.2 1024.6 L595.1 1013.0 L597.1 1036.5 L599.0 1030.7 L601.0 1046.7 L602.8 1045.2 L604.7 1015.4 L606.6 1020.7 L608.5 984.5 L610.3 983.5 L612.2 1000.1 L614.1 993.9 L615.9 1018.2 L617.8 1011.6 L619.7 1028.0 L621.5 1030.7 L623.2 1001.0 L625.0 1003.3 L626.7 983.8 L628.5 989.4 L630.2 969.4 L632.2 961.3 L634.1 986.4 L636.1 973.9 L638.0 995.5 L640.0 980.5 L641.9 995.2 L643.9 995.1 L645.8 973.4 L647.8 976.5 L649.6 999.4 L651.3 995.1 L653.1 1024.5 L654.8 1032.7 L656.6 1021.1 L658.3 1028.2 L660.1 1003.2 L661.9 1009.3 L663.6 1023.9 L665.4 1014.9 L667.1 1038.4 L668.9 1033.7 L670.6 1051.2 L672.4 1053.7 L674.0 1034.8 L675.7 1048.5 L677.3 1022.4 L678.9 1031.8 L680.6 1013.9 L682.5 1021.2 L684.5 1060.0 L686.4 1065.5 L688.1 1049.1 L689.7 1064.7 L691.4 1040.4 L693.0 1060.8 L694.6 1044.4 L696.4 1040.5 L698.1 1066.5 L699.9 1051.8 L701.7 1065.5 L703.4 1068.8 L705.2 1050.9 L706.9 1064.7 L708.7 1049.1 L710.3 1052.3 L712.0 1071.8 L713.6 1064.8 L715.2 1095.3 L716.9 1093.6 L718.6 1075.3 L720.4 1084.8 L722.2 1058.9 L723.9 1053.7 L725.9 1079.7 L727.8 1086.0 L729.8 1112.3 L731.6 1111.7 L733.4 1089.8 L735.3 1092.1 L737.1 1071.7 L739.0 1082.2 L740.8 1049.7 L742.6 1053.7 L744.6 1078.2 L746.5 1073.6 L748.5 1095.9 L750.3 1107.3 L752.2 1093.8 L754.0 1119.6 L755.9 1105.7 L757.7 1125.6 L759.5 1119.9 L761.4 1131.0 L763.0 1128.2 L764.7 1092.1 L766.3 1100.4 L767.9 1065.6 L769.6 1060.8 L771.3 1066.3 L773.1 1047.0 L774.8 1065.0 L776.6 1051.4 L778.4 1035.2 L780.1 1041.4 L781.9 1016.7 L783.6 1024.6 L785.4 1000.1 L787.1 995.2 L788.9 1025.0 L790.7 1022.9 L792.4 1059.5 L794.2 1074.8 L795.9 1062.1 L797.7 1077.4 L799.4 1053.0 L801.2 1069.9 L803.0 1050.8 L804.7 1053.7 L805.9 1076.6 L807.0 1084.2 L808.9 1081.4 L810.8 1114.7 L812.7 1106.8 L814.5 1126.8 L816.4 1131.0 L818.3 1114.7 L820.2 1113.1 L822.0 1089.3 L823.9 1091.6 L825.8 1074.8 L827.0 1084.5 L828.1 1117.0 L829.9 1117.3 L831.6 1092.8 L833.4 1097.6 L835.2 1079.5 L836.9 1083.6 L838.7 1110.1 L840.4 1106.7 L842.2 1124.0 L843.9 1120.4 L845.7 1099.4 L847.4 1103.3 L849.2 1086.5 L851.2 1093.6 L853.1 1129.7 L855.1 1138.1 L856.7 1130.5 L858.3 1142.6 L860.0 1118.2 L861.6 1137.5 L863.3 1124.0 L864.8 1129.6 L866.4 1161.2 L867.9 1173.2 L869.7 1159.8 L871.5 1167.5 L873.2 1146.8 L875.0 1152.1 L876.6 1165.4 L878.2 1156.9 L879.9 1181.0 L881.5 1172.0 L883.2 1189.6 L884.9 1191.0 L886.7 1173.9 L888.4 1180.7 L890.2 1160.8 L891.9 1173.9 L893.7 1156.8 L895.5 1160.0 L897.2 1185.2 L899.0 1177.8 L900.7 1196.6 L902.3 1225.1 L903.8 1224.2 L905.4 1245.8 L907.2 1231.6 L908.9 1198.9 L910.6 1200.3 L912.2 1229.0 L913.8 1216.2 L915.5 1245.2 L917.1 1248.1 L919.0 1227.8 L920.9 1236.2 L922.7 1208.3 L924.6 1211.8 L926.5 1196.6 L909.4 1249.1 L910.5 1213.5 L911.7 1199.9 L913.7 1228.6 L915.6 1225.4 L917.6 1249.1 L919.2 1245.2 L920.8 1215.1 L922.5 1222.0 L924.1 1201.0 L925.8 1195.2 L927.6 1209.5 L929.5 1202.9 L931.4 1233.9 L933.3 1224.7 L935.1 1242.0 L937.0 1246.8 L938.9 1228.1 L940.7 1237.6 L942.6 1215.3 L944.5 1218.6 L946.4 1233.9 L948.3 1224.5 L950.2 1246.5 L952.1 1239.3 L954.0 1257.1 L955.9 1251.1 L957.8 1272.1 L959.7 1272.5 L961.4 1254.0 L963.0 1266.6 L964.6 1236.9 L966.3 1246.8 L967.9 1230.3 L969.7 1228.7 L971.4 1247.2 L973.2 1236.0 L974.9 1249.1 L976.9 1253.1 L978.8 1225.9 L980.8 1232.7 L982.4 1242.0 L984.1 1232.8 L985.7 1253.7 L987.4 1239.3 L989.0 1253.7 L990.7 1263.0 L992.5 1238.4 L994.3 1256.2 L996.0 1244.4 L997.9 1242.3 L999.8 1271.0 L1001.6 1258.3 L1003.5 1288.2 L1005.4 1286.5 L1007.3 1262.6 L1009.3 1264.8 L1011.2 1244.4 L1012.9 1239.6 L1014.5 1265.9 L1016.2 1256.1 L1017.8 1283.6 L1019.4 1279.5 L1021.3 1258.4 L1023.2 1274.1 L1025.1 1248.4 L1026.9 1250.8 L1028.8 1235.0 L1030.8 1236.7 L1032.7 1259.7 L1034.7 1260.8 L1036.4 1243.5 L1038.2 1246.2 L1039.9 1220.6 L1041.7 1213.9 L1043.2 1227.8 L1044.8 1215.9 L1046.4 1235.0 L1048.1 1239.0 L1049.9 1214.0 L1051.6 1220.9 L1053.4 1209.3 L1055.0 1207.4 L1056.7 1240.0 L1058.3 1234.1 L1060.0 1257.6 L1061.6 1260.8 L1063.5 1257.4 L1065.5 1283.2 L1067.4 1279.5 L1069.4 1265.2 L1071.4 1276.0 L1073.3 1256.1 L1075.1 1259.6 L1076.8 1283.6 L1078.6 1276.5 L1080.3 1298.2 L1082.1 1294.5 L1083.8 1269.6 L1085.6 1276.1 L1087.4 1260.8 L1089.1 1266.8 L1090.9 1291.2 L1092.8 1291.2 L1094.8 1270.5 L1096.7 1283.3 L1098.7 1256.5 L1100.6 1266.0 L1102.6 1251.4 L1104.2 1246.7 L1105.9 1267.4 L1107.5 1259.7 L1109.1 1277.6 L1110.8 1274.8 L1112.4 1274.3 L1114.1 1292.9 L1115.7 1280.9 L1117.3 1303.8 L1119.0 1305.3 L1120.7 1296.7 L1122.5 1321.9 L1124.2 1302.2 L1126.0 1314.6 L1127.9 1314.5 L1129.7 1296.8 L1131.6 1305.3 L1133.5 1286.6 L1135.4 1291.2 L1137.3 1312.2 L1139.3 1306.7 L1141.2 1324.0 L1144.2 1342.8 L1146.7 1317.8 L1149.2 1346.1 L1151.7 1315.9 L1154.2 1339.0 L1156.7 1315.4 L1159.2 1339.0 L1161.7 1325.1 L1164.2 1346.6 L1166.7 1333.7 L1169.2 1364.2 L1171.7 1335.4 L1174.2 1346.3 L1176.7 1328.3 L1179.2 1339.8 L1181.7 1320.6 L1184.2 1333.2 L1186.7 1315.0 L1189.2 1336.8 L1191.7 1312.8 L1194.2 1346.9 L1196.7 1320.7 L1199.2 1347.0 L1201.7 1310.5 L1204.2 1323.3 L1206.7 1299.3 L1209.2 1318.7 L1211.7 1295.0 L1214.2 1325.5 L1216.7 1300.0 L1219.2 1329.3 L1221.7 1320.6 L1224.2 1339.3 L1226.7 1313.8 L1229.2 1329.0 L1231.7 1308.4 L1234.2 1335.0 L1236.7 1319.4 L1239.2 1338.3 L1241.7 1314.7 L1244.2 1331.2 L1246.7 1311.1 L1249.2 1331.7 L1251.7 1304.8 L1254.2 1330.0 L1256.7 1300.8 L1259.2 1322.7 L1261.7 1298.1 L1264.2 1331.7 L1266.7 1295.8 L1269.2 1334.6 L1271.7 1306.4 L1274.2 1337.0 L1276.7 1307.7 L1279.2 1329.6 L1281.7 1309.0 L1284.2 1326.6 L1286.7 1309.2 L1289.2 1322.3 L1291.7 1308.9 L1294.2 1331.1 L1296.7 1307.1 L1299.2 1333.9 L1301.7 1305.2 L1304.2 1338.7 L1306.7 1316.2 L1309.2 1349.4 L1311.7 1336.9 L1314.2 1358.9 L1316.7 1334.9 L1319.2 1367.0 L1321.7 1318.5 L1324.2 1351.6 L1326.7 1323.5 L1329.2 1347.9 L1331.7 1306.7 L1334.2 1339.1 L1336.7 1309.9 L1339.2 1341.0 L1341.7 1328.9 L1344.2 1348.6 L1346.7 1325.3 L1349.2 1348.7 L1351.7 1313.3 L1354.2 1324.7 L1356.7 1300.2 L1359.2 1321.9 L1361.7 1310.1 L1364.2 1332.7 L1366.7 1312.9 L1369.2 1332.9 L1371.7 1298.8 L1374.2 1328.9 L1376.7 1299.0 L1379.2 1336.2 L1381.7 1303.3 L1384.2 1339.2 L1386.7 1309.5 L1389.2 1336.7 L1391.7 1305.6 L1394.2 1336.1 L1396.7 1303.9 L1399.2 1335.6 L1401.7 1334.7 L1404.2 1370.9 L1406.7 1334.0 L1409.2 1363.8 L1411.7 1333.1 L1414.2 1361.5 L1416.7 1335.0 L1419.2 1358.4 L1421.7 1332.8 L1424.2 1367.3 L1426.7 1331.2 L1429.2 1358.9 L1431.7 1329.0 L1434.2 1356.9 L1436.7 1326.6 L1439.2 1349.1 L1441.7 1325.8 L1444.2 1355.5 L1446.7 1328.6 L1449.2 1356.2 L1451.7 1338.2 L1454.2 1353.2 L1456.7 1336.5 L1459.2 1357.6 L1461.7 1325.5 L1464.2 1358.8 L1466.7 1328.5 L1469.2 1353.4 L1471.7 1331.1 L1474.2 1357.6 L1476.7 1327.5 L1479.2 1355.8 L1481.7 1333.2 L1484.2 1364.3 L1486.7 1335.3 L1489.2 1355.8 L1491.7 1337.1 L1494.2 1353.9 L1496.7 1334.2 L1499.2 1359.9 L1501.7 1334.9 L1504.2 1357.2 L1506.7 1324.1 L1509.2 1357.5 L1511.7 1339.4 L1514.2 1361.0 L1516.7 1340.0 L1519.2 1353.8 L1521.7 1338.8 L1524.2 1353.7 L1526.7 1335.6 L1529.2 1353.1 L1531.7 1336.3 L1534.2 1361.6 L1536.7 1333.4 L1539.2 1363.5 L1541.7 1338.6 L1544.2 1358.1 L1546.7 1337.5 L1549.2 1354.6 L1551.7 1331.1 L1554.2 1357.0 L1556.7 1337.4 L1559.2 1365.5 L1561.7 1339.8 L1564.2 1362.0 L1566.7 1337.7 L1569.2 1362.6 L1571.7 1345.6 L1574.2 1372.5 L1576.7 1346.7 L1579.2 1377.9 L1581.7 1343.0 L1584.2 1379.0 L1586.7 1354.3 L1589.2 1379.3 L1591.7 1355.2 L1594.2 1383.7 L1596.7 1357.6 L1599.2 1384.6 L1601.7 1350.0 L1604.2 1377.9 L1606.7 1349.7 L1609.2 1378.5 L1611.7 1360.3 L1614.2 1378.8 L1616.7 1359.2 L1619.2 1383.5 L1621.7 1358.9 L1624.2 1380.7 L1626.7 1352.2 L1629.2 1379.9 L1631.7 1347.7 L1634.2 1382.9 L1636.7 1349.0 L1639.2 1370.9 L1641.7 1344.9 L1644.2 1370.4 L1646.7 1347.6 L1649.2 1379.6 L1651.7 1348.8 L1654.2 1377.0 L1656.7 1356.7 L1659.2 1376.7 L1661.7 1347.6 L1664.2 1385.0 L1666.7 1346.5 L1669.2 1377.5 L1671.7 1349.7 L1674.2 1377.6 L1676.7 1352.5 L1679.2 1377.0 L1681.7 1352.3 L1684.2 1371.9 L1686.7 1349.3 L1689.2 1372.8 L1691.7 1346.9 L1694.2 1374.1 L1696.7 1346.0 L1699.2 1383.8 L1701.7 1353.6 L1704.2 1378.0 L1706.7 1355.3 L1709.2 1379.5 L1711.7 1356.2 L1714.2 1373.4 L1716.7 1361.8 L1719.2 1374.1 L1721.7 1359.2 L1724.2 1373.9 L1726.7 1359.8 L1729.2 1376.3 L1731.7 1364.6 L1734.2 1377.2 L1736.7 1363.3 L1739.2 1380.4 L1741.7 1364.5 L1744.2 1383.0 L1746.7 1364.6 L1749.2 1384.8 L1751.7 1369.9 L1754.2 1387.5 L1756.7 1369.3 L1759.2 1387.3 L1761.7 1368.1 L1764.2 1388.3 L1766.7 1370.1 L1769.2 1380.4 L1771.7 1367.6 L1774.2 1381.1 L1776.7 1359.8 L1779.2 1379.4 L1781.7 1356.1 L1784.2 1371.0 L1786.7 1357.0 L1789.2 1372.3 L1791.7 1354.2 L1794.2 1372.1 L1796.7 1355.2 L1799.2 1370.5 L1801.7 1353.1 L1804.2 1372.8 L1806.7 1353.8 L1809.2 1371.3 L1811.7 1357.7 L1814.2 1376.5 L1816.7 1357.5 L1819.2 1376.6 L1821.7 1359.6 L1824.2 1376.9 L1826.7 1355.2 L1829.2 1372.9 L1831.7 1354.5 L1834.2 1374.6 L1836.7 1351.9 L1839.2 1375.5 L1841.7 1354.9 L1844.2 1368.8 L1846.7 1354.3 L1849.2 1374.6 L1851.7 1351.2 L1854.2 1375.9 L1856.7 1356.3 L1859.2 1375.0 L1861.7 1357.9 L1864.2 1378.8 L1866.7 1359.9 L1869.2 1379.5 L1871.7 1359.5 L1874.2 1380.3 L1876.7 1360.4 L1879.2 1376.5 L1881.7 1356.4 L1884.2 1375.4 L1886.7 1359.0 L1889.2 1372.1 L1891.7 1360.2 L1894.2 1382.4 L1896.7 1363.0 L1899.2 1383.0 L1901.7 1360.4 L1904.2 1380.4 L1906.7 1362.3 L1909.2 1384.3 L1911.7 1361.3 L1914.2 1383.9 L1916.7 1361.5 L1919.2 1378.3 L1921.7 1360.6 L1924.2 1376.6 L1926.7 1365.6 L1929.2 1378.5 L1931.7 1365.2 L1934.2 1388.6 L1936.7 1366.8 L1939.2 1380.6 L1941.7 1364.8 L1944.2 1380.3 L1946.7 1362.8 L1949.2 1380.7 L1951.7 1362.6 L1954.2 1381.3 L1956.7 1367.0 L1959.2 1381.5 L1961.7 1367.1 L1964.2 1384.9 L1966.7 1368.0 L1969.2 1388.4 L1971.7 1370.1 L1974.2 1387.5 L1976.7 1373.4 L1979.2 1383.2 L1981.7 1374.7 L1984.2 1384.5 L1986.7 1369.8 L1989.2 1384.3 L1991.7 1367.1 L1994.2 1388.9 L1996.7 1367.4 L1999.2 1393.6 L2001.7 1371.4 L2004.2 1394.5 L2006.7 1368.6 L2009.2 1390.5 L2011.7 1368.7 L2014.2 1385.0 L2016.7 1373.9 L2019.2 1384.2 L2021.7 1369.0 L2024.2 1388.1 L2026.7 1369.4 L2029.2 1390.1 L2031.7 1370.5 L2034.2 1391.5 L2036.7 1376.8 L2039.2 1388.2 L2041.7 1376.8 L2044.2 1389.5 L2046.7 1375.2 L2049.2 1389.0 L2051.7 1371.3 L2054.2 1391.8 L2056.7 1371.4 L2059.2 1392.6 L2061.7 1373.1 L2064.2 1385.5 L2066.7 1374.8 L2069.2 1383.9 L2071.7 1374.4 L2074.2 1383.9 L2076.7 1376.4 L2079.2 1383.9 L2081.7 1374.2 L2084.2 1381.8 L2086.7 1374.8 L2089.2 1381.9 L2091.7 1377.1 L2094.2 1382.3 L2096.7 1376.5 L2099.2 1383.9 L2101.7 1376.8 L2104.2 1386.5 L2106.7 1374.7 L2109.2 1387.0 L2111.7 1373.7 L2114.2 1383.9 L2116.7 1374.0 L2119.2 1383.0 L2121.7 1378.4 L2124.2 1383.4 L2126.7 1377.2 L2129.2 1386.2 L2131.7 1377.4 L2134.2 1384.7 L2136.7 1379.2 L2139.2 1384.9 L2141.7 1379.2 L2144.2 1385.5 L2146.7 1378.9 L2149.2 1386.9 L2151.7 1377.3 L2154.2 1387.9 L2156.7 1378.9 L2159.2 1388.7 L2161.7 1380.0 L2164.2 1390.2 L2166.7 1377.4 L2169.2 1390.2 L2171.7 1380.2 L2174.2 1387.7 L2176.7 1380.4 L2179.2 1389.3 L2181.7 1379.1 L2184.2 1389.3 L2186.7 1378.9 L2189.2 1390.5 L2191.7 1378.8 L2194.2 1389.9 L2196.7 1380.9 L2199.2 1390.6 L2201.7 1384.0 L2204.2 1390.4 L2206.7 1383.1 L2209.2 1391.4 L2211.7 1379.9 L2214.2 1391.5 L2216.7 1379.6 L2219.2 1390.2 L2221.7 1380.0 L2224.2 1391.4 L2226.7 1381.2 L2229.2 1392.1 L2231.7 1381.3 L2234.2 1390.7 L2236.7 1380.8 L2239.2 1389.7 L2241.7 1378.8 L2244.2 1388.9 L2246.7 1378.8 L2249.2 1390.4 L2251.7 1377.9 L2254.2 1388.7 L2256.7 1377.9 L2259.2 1387.0 L2261.7 1378.7 L2264.2 1386.3 L2266.7 1377.9 L2269.2 1384.5 L2271.7 1378.4 L2274.2 1385.1 L2276.7 1378.0 L2279.2 1384.6 L2281.7 1378.5 L2284.2 1386.5 L2286.7 1380.8 L2289.2 1387.0 L2291.7 1380.3 L2294.2 1385.7 L2296.7 1380.9 L2299.2 1386.4 L2301.7 1378.5 L2304.2 1386.3 L2306.7 1378.0 L2309.2 1387.8 L2311.7 1378.9 L2314.2 1391.5 L2316.7 1382.0 L2319.2 1391.7 L2321.7 1378.7 L2324.2 1389.4 L2326.7 1379.2 L2329.2 1389.9 L2331.7 1380.5 L2334.2 1390.1 L2336.7 1379.4 L2339.2 1391.1 L2341.7 1379.5 L2344.2 1392.7 L2346.7 1383.4 L2349.2 1392.9 L2351.7 1384.4 L2354.2 1391.3 L2356.7 1385.3" stroke="#7d0b82" stroke-width="9.5"/>
<path d="M463.4 99.0 L463.4 740.0 L466.3 785.8 L471.7 837.4 L475.7 872.5" stroke="#701c74" stroke-width="8.5"/>
<rect x="459" y="98.5" width="8.8" height="4" fill="#c77fcb"/>
</g>
<g filter="url(#b2)">
<rect x="422" y="68" width="4.5" height="1364" fill="#000"/>
<rect x="426.5" y="72" width="4" height="1356" fill="#808080"/>
<rect x="422" y="68" width="1938.8" height="4" fill="#3c3c3c"/><rect x="422" y="72" width="1938.8" height="3.8" fill="#505050"/>
<rect x="2356.7" y="72" width="4.1" height="1385" fill="#000"/>
<rect x="2360.8" y="74" width="3.6" height="1383" fill="#c8c8c8"/>
<rect x="422" y="1425.5" width="1938.8" height="6" fill="#000"/>
<rect x="426" y="1431.5" width="1931" height="1.6" fill="#777"/>
<rect x="394" y="1392.8" width="30" height="4" fill="#707070"/><rect x="394" y="1396.8" width="30" height="4.2" fill="#101010"/>
<rect x="407" y="1231.0" width="17" height="4" fill="#707070"/><rect x="407" y="1235.0" width="17" height="4.2" fill="#101010"/>
<rect x="394" y="1069.3" width="30" height="4" fill="#707070"/><rect x="394" y="1073.3" width="30" height="4.2" fill="#101010"/>
<rect x="407" y="907.5" width="17" height="4" fill="#707070"/><rect x="407" y="911.5" width="17" height="4.2" fill="#101010"/>
<rect x="394" y="745.8" width="30" height="4" fill="#707070"/><rect x="394" y="749.8" width="30" height="4.2" fill="#101010"/>
<rect x="407" y="584.0" width="17" height="4" fill="#707070"/><rect x="407" y="588.0" width="17" height="4.2" fill="#101010"/>
<rect x="394" y="422.3" width="30" height="4" fill="#707070"/><rect x="394" y="426.3" width="30" height="4.2" fill="#101010"/>
<rect x="407" y="260.5" width="17" height="4" fill="#707070"/><rect x="407" y="264.5" width="17" height="4.2" fill="#101010"/>
<rect x="394" y="98.8" width="30" height="4" fill="#707070"/><rect x="394" y="102.8" width="30" height="4.2" fill="#101010"/>
<rect x="458.8" y="1430" width="8" height="26.5" fill="#555"/>
<rect x="553.4" y="1430" width="5.5" height="15" fill="#161616"/><rect x="558.9" y="1430" width="2.5" height="15" fill="#aaa"/>
<rect x="648.3" y="1430" width="8" height="26.5" fill="#555"/>
<rect x="742.9" y="1430" width="5.5" height="15" fill="#161616"/><rect x="748.4" y="1430" width="2.5" height="15" fill="#aaa"/>
<rect x="837.8" y="1430" width="8" height="26.5" fill="#555"/>
<rect x="932.4" y="1430" width="5.5" height="15" fill="#161616"/><rect x="937.9" y="1430" width="2.5" height="15" fill="#aaa"/>
<rect x="1027.3" y="1430" width="8" height="26.5" fill="#555"/>
<rect x="1121.8" y="1430" width="5.5" height="15" fill="#161616"/><rect x="1127.3" y="1430" width="2.5" height="15" fill="#aaa"/>
<rect x="1216.8" y="1430" width="8" height="26.5" fill="#555"/>
<rect x="1311.3" y="1430" width="5.5" height="15" fill="#161616"/><rect x="1316.8" y="1430" width="2.5" height="15" fill="#aaa"/>
<rect x="1406.3" y="1430" width="8" height="26.5" fill="#555"/>
<rect x="1500.8" y="1430" width="5.5" height="15" fill="#161616"/><rect x="1506.3" y="1430" width="2.5" height="15" fill="#aaa"/>
<rect x="1595.8" y="1430" width="8" height="26.5" fill="#555"/>
<rect x="1690.3" y="1430" width="5.5" height="15" fill="#161616"/><rect x="1695.8" y="1430" width="2.5" height="15" fill="#aaa"/>
<rect x="1785.3" y="1430" width="8" height="26.5" fill="#555"/>
<rect x="1879.8" y="1430" width="5.5" height="15" fill="#161616"/><rect x="1885.3" y="1430" width="2.5" height="15" fill="#aaa"/>
<rect x="1974.8" y="1430" width="8" height="26.5" fill="#555"/>
<rect x="2069.3" y="1430" width="5.5" height="15" fill="#161616"/><rect x="2074.8" y="1430" width="2.5" height="15" fill="#aaa"/>
<rect x="2164.3" y="1430" width="8" height="26.5" fill="#555"/>
<rect x="2258.8" y="1430" width="5.5" height="15" fill="#161616"/><rect x="2264.3" y="1430" width="2.5" height="15" fill="#aaa"/>
</g>
<g font-family="'Liberation Sans', sans-serif" fill="#000" stroke="#fff" stroke-width="0.55" filter="url(#b2)">
<text x="374.5" y="1421.8" font-size="90" text-anchor="end">0</text>
<text x="374.5" y="1098.3" font-size="90" text-anchor="end">50</text>
<text x="374.5" y="774.8" font-size="90" text-anchor="end">100</text>
<text x="374.5" y="451.3" font-size="90" text-anchor="end">150</text>
<text x="374.5" y="127.8" font-size="90" text-anchor="end">200</text>
<text x="462.6" y="1541" font-size="90" text-anchor="middle">0</text>
<text x="652.1" y="1541" font-size="90" text-anchor="middle">5</text>
<text x="841.6" y="1541" font-size="90" text-anchor="middle">10</text>
<text x="1031.1" y="1541" font-size="90" text-anchor="middle">15</text>
<text x="1220.6" y="1541" font-size="90" text-anchor="middle">20</text>
<text x="1410.1" y="1541" font-size="90" text-anchor="middle">25</text>
<text x="1599.6" y="1541" font-size="90" text-anchor="middle">30</text>
<text x="1789.1" y="1541" font-size="90" text-anchor="middle">35</text>
<text x="1978.6" y="1541" font-size="90" text-anchor="middle">40</text>
<text x="2168.1" y="1541" font-size="90" text-anchor="middle">45</text>
<text x="2357.6" y="1541" font-size="90" text-anchor="middle">50</text>
<text transform="translate(1393,1694) scale(1.075,1)" font-size="97.5" text-anchor="middle" stroke="none">time (ps)</text>
<text transform="translate(109.5,770) rotate(-90) scale(1,1.075)" font-size="98" text-anchor="middle" stroke="#000" stroke-width="0.7">Number of fragment</text>
</g>
<g filter="url(#b2)">
<rect x="596" y="110" width="423" height="473" fill="#b4b4b4"/>
<rect x="592.5" y="106.5" width="423" height="473" fill="#5a5a5a"/>
<rect x="597" y="111" width="414" height="464" fill="#fff"/>
<rect x="620" y="188.2" width="173" height="7.6" fill="#000000"/>
<text x="809" y="217.0" font-family="'Liberation Sans', sans-serif" font-size="73.5" fill="#000">N2</text>
<rect x="620" y="272.2" width="173" height="12" fill="#9a9aff" opacity="0.55"/>
<rect x="620" y="274.4" width="173" height="7.6" fill="#16169a"/>
<text x="809" y="303.2" font-family="'Liberation Sans', sans-serif" font-size="73.5" fill="#000">H2N2</text>
<rect x="620" y="358.5" width="173" height="12" fill="#ff9aff" opacity="0.55"/>
<rect x="620" y="360.7" width="173" height="7.6" fill="#c22cc8"/>
<text x="809" y="389.5" font-family="'Liberation Sans', sans-serif" font-size="73.5" fill="#000">NH3</text>
<rect x="620" y="444.8" width="173" height="12" fill="#e09aff" opacity="0.55"/>
<rect x="620" y="446.9" width="173" height="7.6" fill="#5e1fb0"/>
<text x="809" y="475.8" font-family="'Liberation Sans', sans-serif" font-size="73.5" fill="#000">H2O</text>
<rect x="620" y="531.0" width="173" height="12" fill="#f0a0f0" opacity="0.55"/>
<rect x="620" y="533.2" width="173" height="7.6" fill="#6c1c70"/>
<text x="809" y="562.0" font-family="'Liberation Sans', sans-serif" font-size="73.5" fill="#000">1</text>
</g>
<g filter="url(#b2)">
<g stroke="#935095" stroke-width="2.8" stroke-linecap="butt">
<line x1="1807.8" y1="441.3" x2="1874.1" y2="421.9"/>
<line x1="1874.1" y1="421.9" x2="1896.9" y2="452.7"/>
<line x1="1864.9" y1="435.6" x2="1883.2" y2="457.3"/>
<line x1="1894.6" y1="497.7" x2="1887.8" y2="506.4"/>
<line x1="1846.7" y1="521.2" x2="1807.8" y2="508.7"/>
<line x1="1807.8" y1="441.3" x2="1807.8" y2="508.7"/>
<line x1="1819.3" y1="450.4" x2="1819.3" y2="499.5"/>
<line x1="1807.8" y1="441.3" x2="1772.0" y2="417.3"/>
<line x1="1874.1" y1="421.9" x2="1886.2" y2="381.9"/>
<line x1="1807.8" y1="508.7" x2="1772.0" y2="532.7"/>
</g>
<g font-family="'Liberation Sans', sans-serif" font-weight="bold" fill="#7a1c7c" font-size="46.5">
<text x="1874.8" y="371.7" >NO<tspan font-size="37" dy="11">2</tspan></text>
<text x="1675.9" y="417.3" >H<tspan font-size="37" dy="8">2</tspan><tspan dy="-8">N</tspan></text>
<text x="1672.7" y="560.1" >O<tspan font-size="37" dy="9">2</tspan><tspan dy="-9">N</tspan></text>
<text x="1893.0" y="487.0" >N</text>
<text x="1852.8" y="540.6" >N</text>
<text x="1852.8" y="579.5" >H</text>
<text x="1814.0" y="660.5" text-anchor="middle" font-size="48.5">1: LLM-116</text>
</g></g>
<text x="1336" y="1871" text-anchor="middle" font-family="'Liberation Serif', 'DejaVu Serif', serif" font-size="72" fill="#000">(<tspan font-weight="bold" font-size="80">a</tspan>)</text>
</svg>
</body></html>
